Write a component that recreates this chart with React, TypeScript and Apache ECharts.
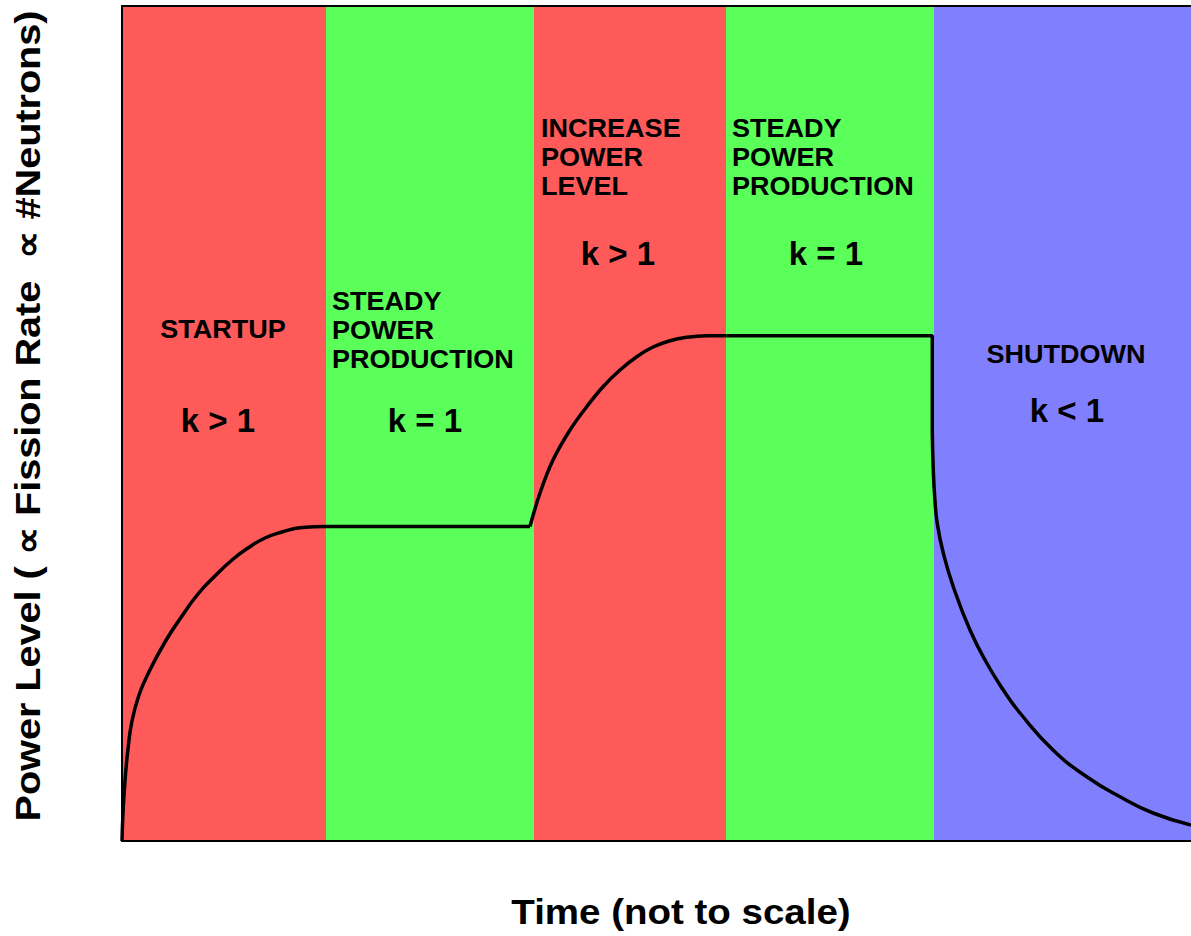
import React, { useEffect, useRef } from "react";
import * as echarts from "echarts";

// Phase boundaries along the (not to scale) time axis
const phaseStarts = [0, 204, 412, 604, 812];
const phaseEnds = [204, 412, 604, 812, 1069];
const phaseColors = ["#ff5a5a", "#5aff5a", "#ff5a5a", "#5aff5a", "#8080ff"];

// Power level curve, split in pieces
const startupCurve: [number, number][] = [
  [0, 0], [1, 28], [3, 60], [6, 92], [10, 120], [17, 146], [26, 167], [43, 199],
  [60, 225], [76, 247], [93, 265], [110, 281], [126, 293], [143, 303],
  [160, 309], [180, 313.5], [204, 314.5],
];
const plateau1: [number, number][] = [[204, 314.5], [408, 314.5]];
const increaseCurve: [number, number][] = [
  [408, 314.5], [418, 348], [431, 381], [448, 411], [464.7, 434.3], [481, 454.3],
  [498, 471], [514.7, 484.3], [531, 494], [548, 500.3], [564.7, 503.7],
  [584.7, 505.3], [604.7, 505.3],
];
const plateau2AndDrop: [number, number][] = [[604.7, 505.3], [810.3, 505.3], [810.3, 408]];
const shutdownCurve: [number, number][] = [
  [810.3, 408], [811.3, 371], [813, 340], [815.5, 316], [821.3, 288], [831.3, 254.3], [848, 211],
  [864.7, 178], [881.3, 151], [898, 128], [931, 91], [964.7, 64.3], [998, 44.3],
  [1031, 28], [1069, 16],
];

const phaseTitles = ["STARTUP", "STEADY\nPOWER\nPRODUCTION", "INCREASE\nPOWER\nLEVEL", "STEADY\nPOWER\nPRODUCTION", "SHUTDOWN"];
const phaseK = ["k > 1", "k = 1", "k > 1", "k = 1", "k < 1"];

const xTitle = "Time (not to scale)";
const yTitle = "Power Level ( \u221D Fission Rate  \u221D #Neutrons)";

export default function App() {
  const ref = useRef<HTMLDivElement>(null);
  useEffect(() => {
    if (!ref.current) return;
    const chart = echarts.init(ref.current, null, { renderer: "svg" });
    const font = "'Liberation Sans', Arial, sans-serif";
    const lineSeries = (data: [number, number][], smooth: number | boolean) => ({
      type: "line",
      data,
      smooth,
      showSymbol: false,
      symbol: "none",
      lineStyle: { color: "#000", width: 3.5 },
      z: 5,
    });
    const titleStyle = (align: string) => ({
      fontFamily: font,
      fontWeight: "bold",
      fontSize: 26,
      lineHeight: 29,
      fill: "#000",
      textAlign: align,
      verticalAlign: "middle",
    });
    const kStyle = {
      fontFamily: font,
      fontWeight: "bold",
      fontSize: 33,
      fill: "#000",
      textAlign: "center",
      verticalAlign: "middle",
    };
    const titlePos = [
      { x: 223, y: 329, align: "center" },
      { x: 332, y: 330, align: "left" },
      { x: 541, y: 157, align: "left" },
      { x: 732, y: 157, align: "left" },
      { x: 1066, y: 354, align: "center" },
    ];
    const kPos = [
      { x: 218, y: 420 },
      { x: 425, y: 420 },
      { x: 618, y: 253 },
      { x: 826, y: 253 },
      { x: 1067, y: 410 },
    ];
    const graphics: any[] = [];
    phaseTitles.forEach((t, i) => {
      graphics.push({
        type: "text",
        x: titlePos[i].x,
        y: titlePos[i].y,
        scaleX: 1.04,
        z: 100,
        style: { text: t, ...titleStyle(titlePos[i].align) },
      });
      graphics.push({
        type: "text",
        x: kPos[i].x,
        y: kPos[i].y,
        z: 100,
        style: { text: phaseK[i], ...kStyle },
      });
    });
    graphics.push({
      type: "text",
      x: 681,
      y: 912,
      scaleX: 1.1,
      z: 100,
      style: {
        text: xTitle,
        fontFamily: font,
        fontWeight: "bold",
        fontSize: 35,
        fill: "#000",
        textAlign: "center",
        verticalAlign: "middle",
      },
    });
    graphics.push({
      type: "text",
      x: 28,
      y: 416,
      rotation: Math.PI / 2,
      scaleX: 1.1,
      z: 100,
      style: {
        text: yTitle,
        fontFamily: font,
        fontWeight: "bold",
        fontSize: 36,
        fill: "#000",
        textAlign: "center",
        verticalAlign: "middle",
      },
    });

    const axisLine = { show: true, lineStyle: { color: "#000", width: 2 } };
    chart.setOption({
      animation: false,
      grid: { left: 122, right: 0, top: 6, bottom: 95 },
      xAxis: [
        {
          type: "value", min: 0, max: 1069, position: "bottom", z: 10,
          axisLine, axisTick: { show: false }, axisLabel: { show: false }, splitLine: { show: false },
        },
        {
          type: "value", min: 0, max: 1069, position: "top", z: 10,
          axisLine, axisTick: { show: false }, axisLabel: { show: false }, splitLine: { show: false },
        },
      ],
      yAxis: {
        type: "value", min: 0, max: 835, z: 10,
        axisLine, axisTick: { show: false }, axisLabel: { show: false }, splitLine: { show: false },
      },
      series: [
        {
          type: "line",
          data: [],
          markArea: {
            silent: true,
            data: phaseStarts.map((s, i) => [
              { xAxis: s, itemStyle: { color: phaseColors[i], opacity: 1 } },
              { xAxis: phaseEnds[i] },
            ]),
          },
          z: 1,
        },
        lineSeries(startupCurve, 0.5),
        lineSeries(plateau1, false),
        lineSeries(increaseCurve, 0.4),
        lineSeries(plateau2AndDrop, false),
        lineSeries(shutdownCurve, 0.5),
      ],
      graphic: graphics,
    });
    return () => chart.dispose();
  }, []);
  return (
    <div
      ref={ref}
      style={{ position: "fixed", left: 0, top: 0, width: "1191px", height: "936px", background: "#fff" }}
    />
  );
}
